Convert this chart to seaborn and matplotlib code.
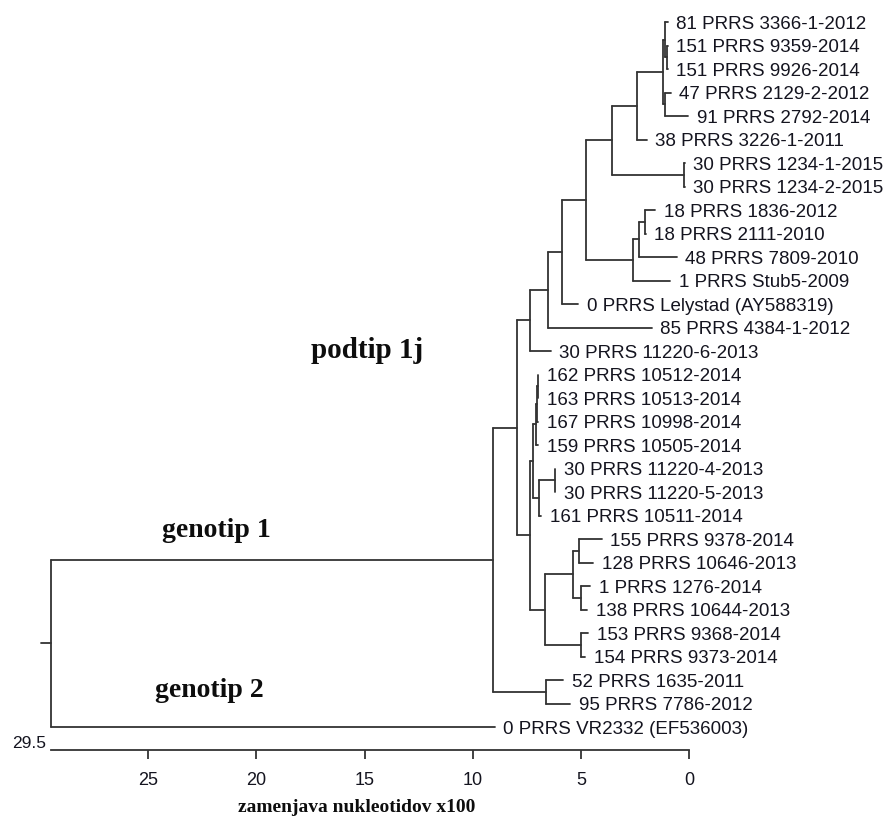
import numpy as np
import pandas as pd
import matplotlib
matplotlib.use("Agg")
import matplotlib.pyplot as plt
import seaborn as sns
from matplotlib.transforms import blended_transform_factory

# ---------------- data ----------------
leaf_labels = [
    "81 PRRS 3366-1-2012", "151 PRRS 9359-2014", "151 PRRS 9926-2014",
    "47 PRRS 2129-2-2012", "91 PRRS 2792-2014", "38 PRRS 3226-1-2011",
    "30 PRRS 1234-1-2015", "30 PRRS 1234-2-2015", "18 PRRS 1836-2012",
    "18 PRRS 2111-2010", "48 PRRS 7809-2010", "1 PRRS Stub5-2009",
    "0 PRRS Lelystad (AY588319)", "85 PRRS 4384-1-2012", "30 PRRS 11220-6-2013",
    "162 PRRS 10512-2014", "163 PRRS 10513-2014", "167 PRRS 10998-2014",
    "159 PRRS 10505-2014", "30 PRRS 11220-4-2013", "30 PRRS 11220-5-2013",
    "161 PRRS 10511-2014", "155 PRRS 9378-2014", "128 PRRS 10646-2013",
    "1 PRRS 1276-2014", "138 PRRS 10644-2013", "153 PRRS 9368-2014",
    "154 PRRS 9373-2014", "52 PRRS 1635-2011", "95 PRRS 7786-2012",
    "0 PRRS VR2332 (EF536003)",
]
leaf_dist = [
    0.98, 0.98, 0.98, 0.85, 0.05, 1.95, 0.20, 0.20, 1.57, 2.00, 0.57, 0.88,
    5.12, 1.73, 6.39, 6.97, 6.97, 6.97, 6.97, 6.18, 6.18, 6.85, 4.04, 4.43,
    4.58, 4.70, 4.66, 4.80, 5.82, 5.50, 8.98,
]
# internal nodes (bottom-up); children are leaf indices or node names
node_names = [
    "n151", "n81", "n47", "na", "n38", "n1234", "nb", "n1836", "n7809",
    "nstub", "nc", "nlely", "n4384", "n11220_6", "nX", "nY", "nU",
    "n11220_45", "nV", "nT", "n9378", "n1276", "ne", "n9368", "nf", "ng",
    "nh", "n1635", "geno1", "root",
]
node_children = [
    [1, 2], [0, "n151"], [3, 4], ["n81", "n47"], ["na", 5], [6, 7],
    ["n38", "n1234"], [8, 9], ["n1836", 10], ["n7809", 11], ["nb", "nstub"],
    ["nc", 12], ["nlely", 13], ["n4384", 14], [15, 16], ["nX", 17],
    ["nY", 18], [19, 20], ["n11220_45", 21], ["nU", "nV"], [22, 23],
    [24, 25], ["n9378", "n1276"], [26, 27], ["ne", "n9368"], ["nT", "nf"],
    ["n11220_6", "ng"], [28, 29], ["nh", "n1635"], ["geno1", 30],
]
node_dist = [
    1.03, 1.11, 1.13, 1.20, 2.40, 0.23, 3.55, 2.04, 2.31, 2.60, 4.77, 5.87,
    6.54, 7.36, 7.00, 7.03, 7.08, 6.20, 6.93, 7.20, 5.07, 5.01, 5.38, 5.01,
    6.67, 7.36, 7.96, 6.63, 9.06, 29.50,
]
root_stub = 29.95
axis_max = 29.5
axis_ticks = [0, 5, 10, 15, 20, 25]
group_labels = ["podtip 1j", "genotip 1", "genotip 2"]
group_x = [14.86, 21.87, 22.2]
group_y = [14.3, 21.9, 28.71]
group_size = [21, 20, 20]
x_title = "zamenjava nukleotidov x100"

# ---------------- geometry from tree ----------------
pos = {i: (d, float(i)) for i, d in enumerate(leaf_dist)}
rows = []
seg = 0
for name, ch, d in zip(node_names, node_children, node_dist):
    ys = [pos[c][1] for c in ch]
    y_node = (ys[0] + ys[-1]) / 2
    pos[name] = (d, y_node)
    rows += [(seg, d, ys[0]), (seg, d, ys[-1])]
    seg += 1
    for c in ch:
        cd, cy = pos[c]
        rows += [(seg, d, cy), (seg, cd, cy)]
        seg += 1
rd, ry = pos["root"]
rows += [(seg, rd, ry), (seg, root_stub, ry)]
df = pd.DataFrame(rows, columns=["seg", "dist", "row"])

# ---------------- plot ----------------
sns.set_theme(style="white")
plt.rcParams["font.family"] = ["Liberation Sans", "DejaVu Sans"]
line_col = "#333333"
text_col = "#14141f"

fig = plt.figure(figsize=(8.9, 8.16), dpi=100)
ax = fig.add_axes([51 / 890, 66 / 816, 638 / 890, 750 / 816])
sns.lineplot(data=df, x="dist", y="row", units="seg", estimator=None,
             sort=False, color=line_col, lw=1.3, legend=False, ax=ax,
             clip_on=False)
ax.set_xlim(axis_max, 0)
ax.set_ylim((750 - 22) / 23.5, -22 / 23.5)

for i, (lab, d) in enumerate(zip(leaf_labels, leaf_dist)):
    ax.text(d - 0.40, i + 0.29, lab, ha="left", va="baseline",
            fontsize=13.5, color=text_col, clip_on=False)

for lab, gx, gy, gs in zip(group_labels, group_x, group_y, group_size):
    ax.text(gx, gy, lab, ha="center", va="baseline", fontsize=gs,
            fontweight="bold", family="Liberation Serif", color="#0d0d0d")

for s in ["left", "top", "right"]:
    ax.spines[s].set_visible(False)
ax.spines["bottom"].set_color(line_col)
ax.spines["bottom"].set_linewidth(1.3)
ax.set_yticks([])
ax.set_ylabel("")
ax.set_xticks(axis_ticks)
ax.set_xticklabels([str(t) for t in axis_ticks])
ax.tick_params(axis="x", bottom=True, direction="out", length=6.5, width=1.3,
               color=line_col, pad=9.5, labelsize=13, labelcolor=text_col)
ax.set_xlabel(x_title, fontsize=14, fontweight="bold",
              family="Liberation Serif", color="#0d0d0d")
ax.xaxis.set_label_coords((357 - 51) / 638, -57 / 750)
ax.xaxis.label.set_va("center")

tr = blended_transform_factory(ax.transData, ax.transAxes)
ax.annotate(f"{axis_max}", xy=(axis_max, 0), xycoords=tr, xytext=(-3.6, 5),
            textcoords="offset points", ha="right", va="center",
            fontsize=12.5, color=text_col, annotation_clip=False)

fig.savefig("out.png", dpi=100, facecolor="white")
